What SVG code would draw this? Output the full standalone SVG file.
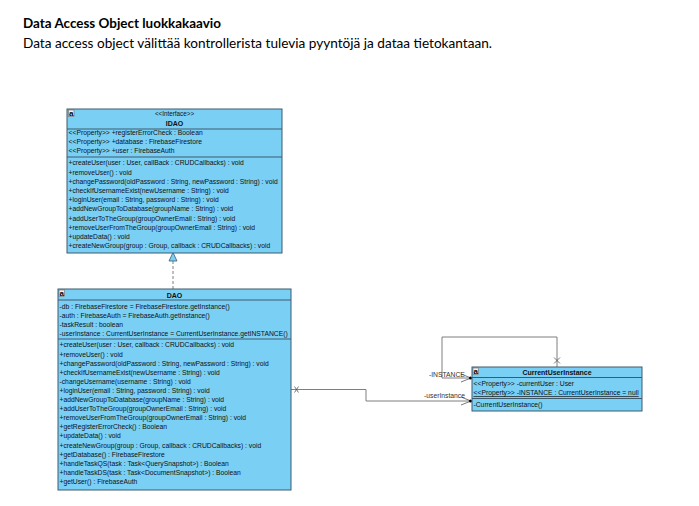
<svg xmlns="http://www.w3.org/2000/svg" width="699" height="506" viewBox="0 0 699 506">
<style>
.bg{fill:#ffffff}
.box{fill:#7ACFF5;stroke:#3E5B6E;stroke-width:1}
.sep{stroke:#3E5B6E;stroke-width:1}
.t{font-family:"Liberation Sans",Arial,sans-serif;font-size:6.75px;fill:#111}
.hb{font-family:"Liberation Sans",Arial,sans-serif;font-size:7px;font-weight:bold;fill:#111}
.st{font-family:"Liberation Sans",Arial,sans-serif;font-size:6.3px;fill:#111}
.ic{fill:#f2f2f2;stroke:#555;stroke-width:0.5}
.ia{font-family:"Liberation Sans",Arial,sans-serif;font-size:8px;font-weight:bold;fill:#000}
.conn{stroke:#7f7f7f;stroke-width:1;fill:none}
.arm{stroke:#555;stroke-width:0.8;fill:none}
.lbl{font-family:"Liberation Sans",Arial,sans-serif;font-size:6.75px;fill:#333}
.title{font-family:Lato,"Liberation Sans",sans-serif;font-size:13px;font-weight:bold;fill:#000}
.sub{font-family:Lato,"Liberation Sans",sans-serif;font-size:12.5px;fill:#000}
</style>
<rect class="bg" x="0" y="0" width="699" height="506"/>
<g id="heading">
<text class="title" x="23" y="28.3" textLength="198" lengthAdjust="spacingAndGlyphs">Data Access Object luokkakaavio</text>
<text class="sub" x="23" y="48.3" textLength="469" lengthAdjust="spacingAndGlyphs">Data access object välittää kontrollerista tulevia pyyntöjä ja dataa tietokantaan.</text>
</g>
<g id="connectors">
<line class="conn" x1="173" y1="289" x2="173" y2="261" stroke-dasharray="3,2"/>
<polygon points="173,252.5 169,261 177,261" fill="#7ACFF5" stroke="#3E5B6E" stroke-width="0.8"/>
<path class="conn" d="M557,367 V337 H442 V378 H471"/>
<path class="arm" d="M554,357.5 L560,363.5 M560,357.5 L554,363.5"/>
<path class="arm" d="M461,374 L471,378 L461,382"/>
<circle cx="470.5" cy="378" r="1.5" fill="#000"/>
<text class="lbl" x="429" y="376.5">-INSTANCE</text>
<path class="conn" d="M291,389.5 H366 V401 H471"/>
<path class="arm" d="M294.5,386.5 L298.5,392.5 M298.5,386.5 L294.5,392.5"/>
<path class="arm" d="M461,397 L471,401 L461,405"/>
<circle cx="470.5" cy="401" r="1.5" fill="#000"/>
<text class="lbl" x="424" y="398">-userInstance</text>
</g>
<g id="IDAO">
<rect class="box" x="67" y="109" width="215" height="144"/>
<rect class="ic" x="68.5" y="110" width="5.5" height="6.5"/>
<text class="ia" x="69" y="116.3">a</text>
<text class="st" x="174.5" y="116.2" text-anchor="middle">&lt;&lt;Interface&gt;&gt;</text>
<text class="hb" x="174.5" y="125.5" text-anchor="middle">IDAO</text>
<line class="sep" x1="67" y1="129" x2="282" y2="129"/>
<text class="t" x="68.5" y="135.4">&lt;&lt;Property&gt;&gt; +registerErrorCheck : Boolean</text>
<text class="t" x="68.5" y="144.4">&lt;&lt;Property&gt;&gt; +database : FirebaseFirestore</text>
<text class="t" x="68.5" y="153.4">&lt;&lt;Property&gt;&gt; +user : FirebaseAuth</text>
<line class="sep" x1="67" y1="157" x2="282" y2="157"/>
<text class="t" x="68.5" y="165.4">+createUser(user : User, callBack : CRUDCallbacks) : void</text>
<text class="t" x="68.5" y="174.6">+removeUser() : void</text>
<text class="t" x="68.5" y="183.8">+changePassword(oldPassword : String, newPassword : String) : void</text>
<text class="t" x="68.5" y="193">+checkIfUsernameExist(newUsername : String) : void</text>
<text class="t" x="68.5" y="202.2">+loginUser(email : String, password : String) : void</text>
<text class="t" x="68.5" y="211.4">+addNewGroupToDatabase(groupName : String) : void</text>
<text class="t" x="68.5" y="220.6">+addUserToTheGroup(groupOwnerEmail : String) : void</text>
<text class="t" x="68.5" y="229.8">+removeUserFromTheGroup(groupOwnerEmail : String) : void</text>
<text class="t" x="68.5" y="239">+updateData() : void</text>
<text class="t" x="68.5" y="248.2">+createNewGroup(group : Group, callback : CRUDCallbacks) : void</text>
</g>
<g id="DAO">
<rect class="box" x="58" y="289" width="233" height="201"/>
<rect class="ic" x="59" y="290" width="5.5" height="6.5"/>
<text class="ia" x="59.5" y="296.3">a</text>
<text class="hb" x="174.5" y="297.8" text-anchor="middle">DAO</text>
<line class="sep" x1="58" y1="300" x2="291" y2="300"/>
<text class="t" x="59.5" y="309">-db : FirebaseFirestore = FirebaseFirestore.getInstance()</text>
<text class="t" x="59.5" y="318">-auth : FirebaseAuth = FirebaseAuth.getInstance()</text>
<text class="t" x="59.5" y="327">-taskResult : boolean</text>
<text class="t" x="59.5" y="336.2">-userInstance : CurrentUserInstance = CurrentUserInstance.getINSTANCE()</text>
<line class="sep" x1="58" y1="339" x2="291" y2="339"/>
<text class="t" x="59.5" y="347.4">+createUser(user : User, callback : CRUDCallbacks) : void</text>
<text class="t" x="59.5" y="356.5">+removeUser() : void</text>
<text class="t" x="59.5" y="365.6">+changePassword(oldPassword : String, newPassword : String) : void</text>
<text class="t" x="59.5" y="374.7">+checkIfUsernameExist(newUsername : String) : void</text>
<text class="t" x="59.5" y="383.8">-changeUsername(username : String) : void</text>
<text class="t" x="59.5" y="392.9">+loginUser(email : String, password : String) : void</text>
<text class="t" x="59.5" y="402">+addNewGroupToDatabase(groupName : String) : void</text>
<text class="t" x="59.5" y="411.1">+addUserToTheGroup(groupOwnerEmail : String) : void</text>
<text class="t" x="59.5" y="420.2">+removeUserFromTheGroup(groupOwnerEmail : String) : void</text>
<text class="t" x="59.5" y="429.3">+getRegisterErrorCheck() : Boolean</text>
<text class="t" x="59.5" y="438.4">+updateData() : void</text>
<text class="t" x="59.5" y="447.5">+createNewGroup(group : Group, callback : CRUDCallbacks) : void</text>
<text class="t" x="59.5" y="456.6">+getDatabase() : FirebaseFirestore</text>
<text class="t" x="59.5" y="465.7">+handleTaskQS(task : Task&lt;QuerySnapshot&gt;) : Boolean</text>
<text class="t" x="59.5" y="474.8">+handleTaskDS(task : Task&lt;DocumentSnapshot&gt;) : Boolean</text>
<text class="t" x="59.5" y="483.9">+getUser() : FirebaseAuth</text>
</g>
<g id="CurrentUserInstance">
<rect class="box" x="472" y="367" width="170" height="44"/>
<rect class="ic" x="473" y="368" width="5.5" height="6.5"/>
<text class="ia" x="473.5" y="374.3">a</text>
<text class="hb" x="557" y="375.2" text-anchor="middle">CurrentUserInstance</text>
<line class="sep" x1="472" y1="377.5" x2="642" y2="377.5"/>
<text class="t" x="473.5" y="386.4">&lt;&lt;Property&gt;&gt; -currentUser : User</text>
<text class="t" x="473.5" y="395.1" text-decoration="underline">&lt;&lt;Property&gt;&gt; -INSTANCE : CurrentUserInstance = null</text>
<line class="sep" x1="472" y1="398.5" x2="642" y2="398.5"/>
<text class="t" x="473.5" y="406.7">-CurrentUserInstance()</text>
</g>
</svg>
